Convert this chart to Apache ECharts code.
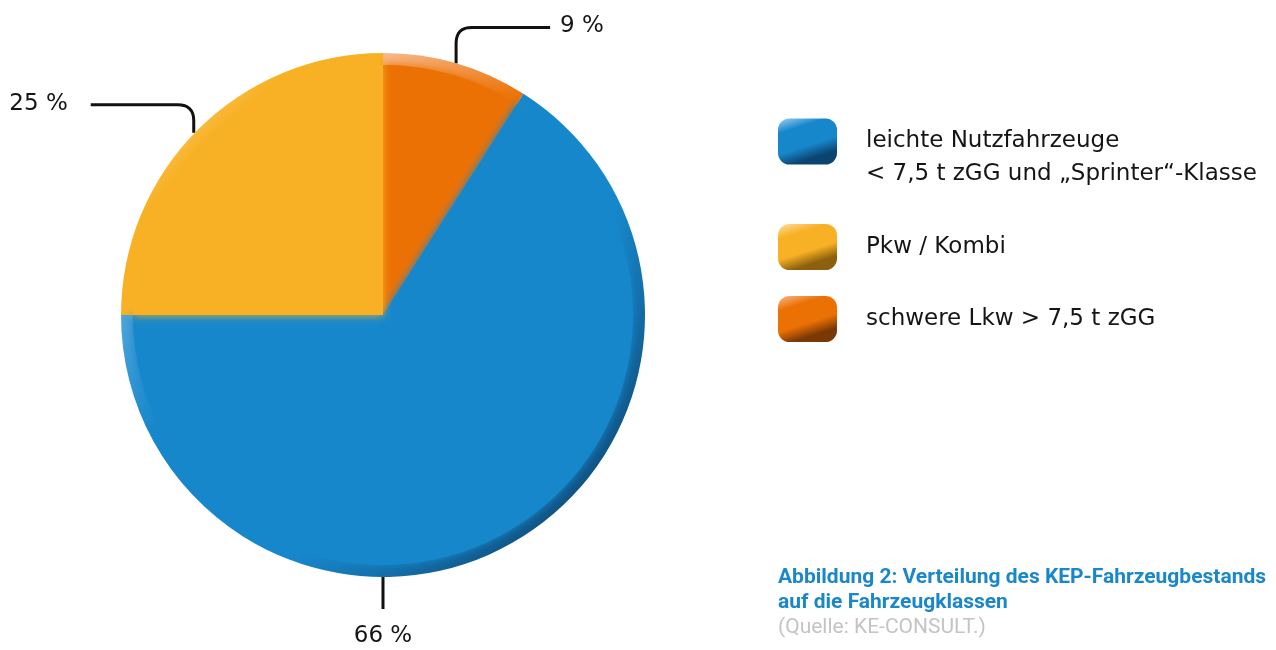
<!DOCTYPE html>
<html>
<head>
<meta charset="utf-8">
<script src="https://cdn.jsdelivr.net/npm/echarts@6/dist/echarts.min.js"></script>
<style>
  html, body { margin: 0; background: #fff; }
  #container { width: 1276px; height: 650px; }
</style>
</head>
<body>
<div id="container"></div>
<script>
// slices, clockwise from 12 o'clock
const categories = [
  'schwere Lkw > 7,5 t zGG',
  'leichte Nutzfahrzeuge\n< 7,5 t zGG und „Sprinter“-Klasse',
  'Pkw / Kombi'
];
const shares = [9, 66, 25];
const baseColors = ['#ec7104', '#1787cb', '#f8b124'];
const lightColors = ['#f8b98a', '#9fd2f0', '#fde0a0'];
const darkColors = ['#7a3805', '#0c4470', '#8c600e'];
const legendOrder = [1, 2, 0];

const captionTitle = 'Abbildung 2: Verteilung des KEP-Fahrzeugbestands\nauf die Fahrzeugklassen';
const captionSource = '(Quelle: KE-CONSULT.)';

const FONT = '"DejaVu Sans", sans-serif';
const CAPTION_FONT = 'Roboto, "Noto Sans", sans-serif';
const center = [383, 315];
const radius = 262;

function rimGradient(i) {
  return new echarts.graphic.LinearGradient(0, 0, 1, 1, [
    { offset: 0, color: lightColors[i] },
    { offset: 0.35, color: baseColors[i] },
    { offset: 0.62, color: baseColors[i] },
    { offset: 0.92, color: darkColors[i] }
  ]);
}

function iconGradient(i) {
  return new echarts.graphic.LinearGradient(0, 0, 0.25, 1, [
    { offset: 0, color: lightColors[i] },
    { offset: 0.3, color: baseColors[i] },
    { offset: 0.72, color: baseColors[i] },
    { offset: 1, color: darkColors[i] }
  ]);
}

// polyline a -> b -> c with a rounded corner at b
function roundedCorner(a, b, c, r) {
  const len1 = Math.hypot(b[0] - a[0], b[1] - a[1]);
  const len2 = Math.hypot(c[0] - b[0], c[1] - b[1]);
  const p1 = [b[0] - (b[0] - a[0]) / len1 * r, b[1] - (b[1] - a[1]) / len1 * r];
  const p2 = [b[0] + (c[0] - b[0]) / len2 * r, b[1] + (c[1] - b[1]) / len2 * r];
  const pts = [a];
  for (let k = 0; k <= 8; k++) {
    const t = k / 8;
    pts.push([
      (1 - t) * (1 - t) * p1[0] + 2 * (1 - t) * t * b[0] + t * t * p2[0],
      (1 - t) * (1 - t) * p1[1] + 2 * (1 - t) * t * b[1] + t * t * p2[1]
    ]);
  }
  pts.push(c);
  return pts;
}

function placeLabel(params) {
  const i = params.dataIndex;
  const rc = params.rect;
  const p = params.labelLinePoints ? params.labelLinePoints[0] : [rc.x, rc.y];
  if (i === 1) {
    const s = [rc.x + rc.width / 2, rc.y + rc.height];
    return {
      x: s[0], y: s[1] + 59, align: 'center', verticalAlign: 'middle',
      labelLinePoints: [s, [s[0], s[1] + 16], [s[0], s[1] + 32]]
    };
  }
  if (i === 0) {
    const b = [p[0], p[1] - 36];
    const c = [p[0] + 94, b[1]];
    return {
      x: c[0] + 10, y: b[1] - 1, align: 'left', verticalAlign: 'middle',
      labelLinePoints: roundedCorner(p, b, c, 16)
    };
  }
  const b = [p[0] - 4, p[1] - 25];
  const c = [p[0] - 107, b[1]];
  return {
    x: c[0] - 23, y: b[1] - 1, align: 'right', verticalAlign: 'middle',
    labelLinePoints: roundedCorner([p[0] - 4, p[1] + 3], b, c, 16)
  };
}

const chart = echarts.init(document.getElementById('container'));

const option = {
  backgroundColor: '#ffffff',
  animation: false,
  title: {
    left: 778,
    top: 565,
    padding: 0,
    itemGap: 0,
    text: captionTitle,
    textStyle: { fontFamily: CAPTION_FONT, fontSize: 21, fontWeight: 'bold', color: '#1a87c9', lineHeight: 25 },
    subtext: captionSource,
    subtextStyle: { fontFamily: CAPTION_FONT, fontSize: 21, color: '#c4c4c4', lineHeight: 25 }
  },
  legend: [
    {
      orient: 'vertical',
      left: 778,
      top: 92,
      padding: 0,
      selectedMode: false,
      icon: 'roundRect',
      itemWidth: 59,
      itemHeight: 46,
      // empty first line keeps the first text line level with the icon
      formatter: (name) => ' \n' + name,
      textStyle: { fontFamily: FONT, fontSize: 23, color: '#151515', lineHeight: 33, padding: [0, 0, 0, 24] },
      data: [legendOrder[0]].map((i) => ({ name: categories[i], itemStyle: { color: iconGradient(i) } }))
    },
    {
      orient: 'vertical',
      left: 778,
      top: 224,
      padding: 0,
      itemGap: 26,
      selectedMode: false,
      icon: 'roundRect',
      itemWidth: 59,
      itemHeight: 46,
      textStyle: { fontFamily: FONT, fontSize: 23, color: '#151515', lineHeight: 33, padding: [0, 0, 0, 24] },
      data: legendOrder.slice(1).map((i) => ({ name: categories[i], itemStyle: { color: iconGradient(i) } }))
    }
  ],
  series: [
    {
      type: 'pie',
      center: center,
      radius: radius,
      startAngle: 90,
      clockwise: true,
      avoidLabelOverlap: false,
      data: categories.map((name, i) => ({
        name: name,
        value: shares[i],
        itemStyle: { color: rimGradient(i) }
      })),
      label: {
        show: true,
        position: 'outside',
        formatter: '{c} %',
        fontFamily: FONT,
        fontSize: 23,
        color: '#151515'
      },
      labelLine: {
        show: true,
        length: 20,
        length2: 40,
        lineStyle: { color: '#111111', width: 3 }
      },
      labelLayout: placeLabel,
      emphasis: { disabled: true }
    },
    {
      type: 'pie',
      center: center,
      radius: radius - 12,
      startAngle: 90,
      clockwise: true,
      silent: true,
      z: 3,
      data: categories.map((name, i) => ({
        name: name,
        value: shares[i],
        itemStyle: { color: baseColors[i], shadowBlur: 8, shadowColor: baseColors[i] }
      })),
      label: { show: false },
      labelLine: { show: false },
      emphasis: { disabled: true }
    }
  ]
};

chart.setOption(option);
</script>
</body>
</html>
